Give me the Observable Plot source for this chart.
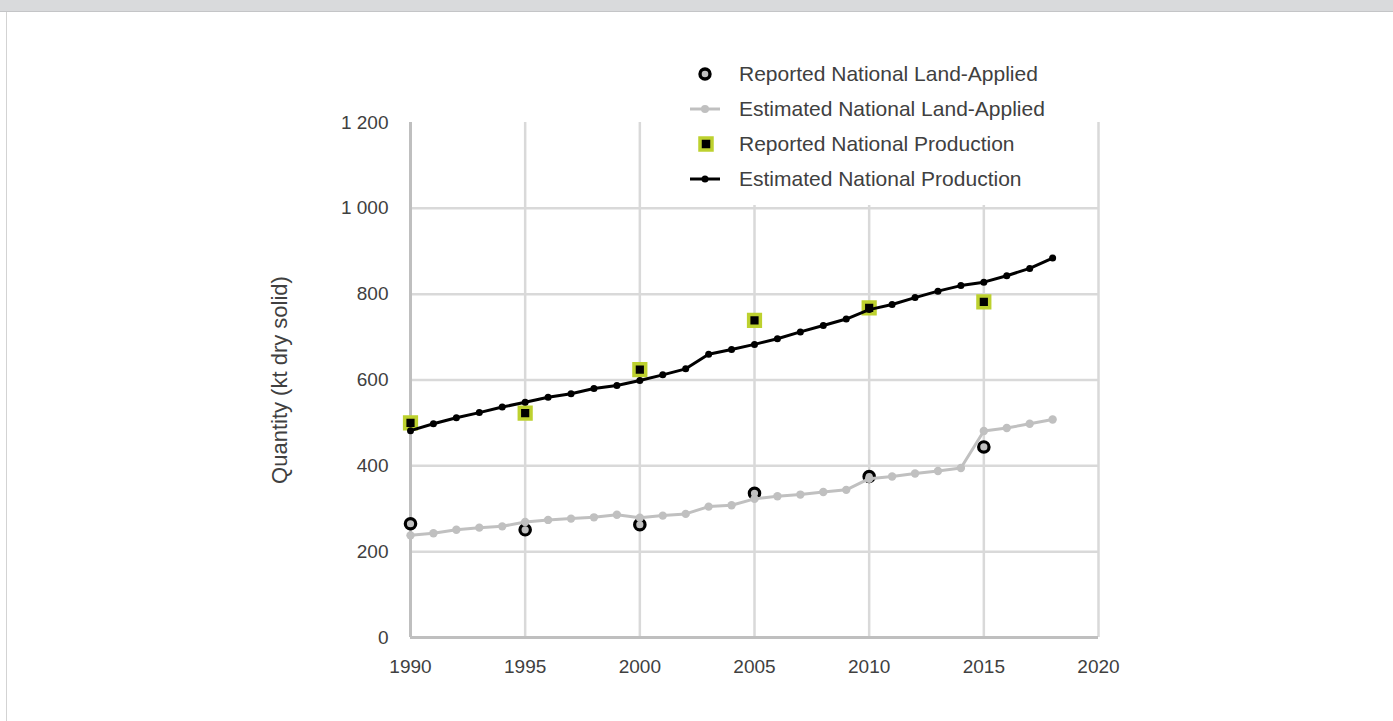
<!DOCTYPE html>
<html><head><meta charset="utf-8">
<script src="https://cdn.jsdelivr.net/npm/d3@7"></script>
<script src="https://cdn.jsdelivr.net/npm/@observablehq/plot@0.6"></script>
<style>
html,body{margin:0;padding:0;background:#fff;width:1393px;height:721px;overflow:hidden;font-family:"Liberation Sans",Arial,sans-serif;}
#hdr{height:11px;background:#d9dadc;border-bottom:1px solid #c4c5c7;}
#panel{position:relative;margin-left:6px;border-left:1px solid #d3d3d3;height:709px;}
#legend{position:absolute;left:684px;top:43px;width:380px;height:150px;background:#fff;}
.row{position:absolute;left:0;height:35px;display:flex;align-items:center;font-size:21px;color:#404040;white-space:nowrap;}
.row svg{margin-right:19px;}
</style></head><body>
<div id="hdr"></div>
<div id="panel"><div id="chart"></div><div id="legend"></div></div>
<script>
const years = [1990,1991,1992,1993,1994,1995,1996,1997,1998,1999,2000,2001,2002,2003,2004,2005,2006,2007,2008,2009,2010,2011,2012,2013,2014,2015,2016,2017,2018];
const estProduction = [482,498,512,524,537,548,560,568,580,587,599,612,626,660,671,683,696,712,727,742,764,776,792,807,820,828,843,860,884];
const estLandApplied = [238,243,251,256,259,269,274,277,280,286,279,284,288,305,308,323,329,333,339,344,370,375,382,388,395,481,488,498,508];
const reportedYears = [1990,1995,2000,2005,2010,2015];
const reportedLandApplied = [265,251,263,336,375,444];
const reportedProduction = [500,523,624,739,768,782];
const xTicks = [1990,1995,2000,2005,2010,2015,2020];
const yTicks = [0,200,400,600,800,1000,1200];
const seriesNames = ["Reported National Land-Applied","Estimated National Land-Applied","Reported National Production","Estimated National Production"];
const yTitle = "Quantity (kt dry solid)";

const est = years.map((y,i)=>({year:y, prod:estProduction[i], land:estLandApplied[i]}));
const rep = reportedYears.map((y,i)=>({year:y, land:reportedLandApplied[i], prod:reportedProduction[i]}));

const GRID = "#d9d9d9", AXIS = "#bfbfbf", LGRAY = "#c0c0c0", LIME = "#bdd12f";
const fmt = d => d3.format(",")(d).replace(/,/g, " ");

const chart = Plot.plot({
  width: 1386, height: 709,
  marginLeft: 403, marginRight: 295, marginTop: 110, marginBottom: 84,
  x: {domain: [xTicks[0], xTicks[xTicks.length-1]], label: null},
  y: {domain: [yTicks[0], yTicks[yTicks.length-1]], label: null},
  style: {fontFamily: "'Liberation Sans', Arial, sans-serif", fontSize: "19px", color: "#404040", background: "transparent"},
  marks: [
    Plot.ruleX(xTicks.slice(1), {stroke: GRID, strokeWidth: 2.5}),
    Plot.ruleY(yTicks.slice(1, -1), {stroke: GRID, strokeWidth: 2.5}),
    Plot.ruleX(xTicks.slice(0,1), {stroke: AXIS, strokeWidth: 3}),
    Plot.ruleY(yTicks.slice(0,1), {stroke: AXIS, strokeWidth: 3}),
    Plot.axisX({ticks: xTicks, tickSize: 0, tickPadding: 22, tickFormat: d => String(d), label: null}),
    Plot.axisY({ticks: yTicks, tickSize: 0, tickPadding: 22, tickFormat: fmt, label: null}),
    Plot.axisY({ticks: [], tickSize: 0, label: yTitle, labelAnchor: "center", labelArrow: "none", labelOffset: 139, fontSize: 22}),
    Plot.dot(rep, {x: "year", y: "land", r: 5.2, fill: LGRAY, stroke: "#000", strokeWidth: 3.2}),
    Plot.line(est, {x: "year", y: "land", stroke: LGRAY, strokeWidth: 3}),
    Plot.dot(est, {x: "year", y: "land", r: 4.2, fill: LGRAY}),
    Plot.dot(rep, {x: "year", y: "prod", symbol: "square", r: 6.6, fill: "#000", stroke: LIME, strokeWidth: 3.5}),
    Plot.line(est, {x: "year", y: "prod", stroke: "#000", strokeWidth: 3}),
    Plot.dot(est, {x: "year", y: "prod", r: 3.5, fill: "#000"})
  ]
});
document.getElementById("chart").appendChild(chart);

const markers = [
  `<svg width="30" height="20"><circle cx="15" cy="10" r="5" fill="${LGRAY}" stroke="#000" stroke-width="3.4"/></svg>`,
  `<svg width="30" height="20"><line x1="0" y1="10" x2="30" y2="10" stroke="${LGRAY}" stroke-width="3"/><circle cx="15" cy="10" r="4" fill="${LGRAY}"/></svg>`,
  `<svg width="30" height="20"><rect x="10" y="4" width="12" height="12" fill="#000" stroke="${LIME}" stroke-width="3.5"/></svg>`,
  `<svg width="30" height="20"><line x1="0" y1="10" x2="30" y2="10" stroke="#000" stroke-width="3"/><circle cx="15" cy="10" r="3.5" fill="#000"/></svg>`
];
const legend = document.getElementById("legend");
seriesNames.forEach((name, i) => {
  const row = document.createElement("div");
  row.className = "row";
  row.style.top = (1 + i*35) + "px";
  row.style.left = "-1px";
  row.innerHTML = markers[i] + `<span>${name}</span>`;
  legend.appendChild(row);
});
</script>
</body></html>
